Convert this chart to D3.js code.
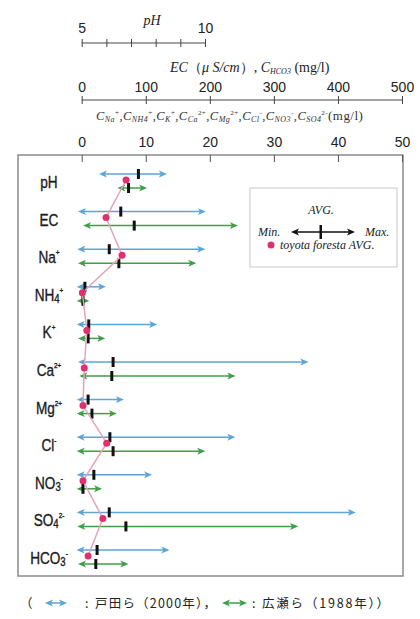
<!DOCTYPE html>
<html><head><meta charset="utf-8">
<script src="https://cdn.jsdelivr.net/npm/d3@7"></script>
<style>body{margin:0;background:#fff}</style>
</head><body>
<script>
// Rows of the chart and which axis each one is read against
const rowKeys = ["pH","EC","Na","NH4","K","Ca","Mg","Cl","NO3","SO4","HCO3"];
const rowUnits = ["ph","ec","ion","ion","ion","ion","ion","ion","ion","ion","ec"];
const rowLabels = [["pH","",""],["EC","",""],["Na","","+"],["NH","4","+"],["K","","+"],["Ca","","2+"],["Mg","","2+"],["Cl","","-"],["NO","3","-"],["SO","4","2-"],["HCO","3","-"]];

// 戸田ら (2000)
const todaMin = [5.9, 2, 0.1, 0, 0, 0.2, 0, 0, 0, 0, 0];
const todaAvg = [7.3, 61, 4.3, 0.5, 1.1, 4.9, 1.0, 4.4, 1.9, 4.3, 24];
const todaMax = [8.25, 186, 18.5, 3.0, 11.0, 34.6, 5.8, 23.2, 10.2, 42.0, 129];
// 広瀬ら (1988)
const hiroseMin = [6.65, 10, 0.2, 0, 0.2, 0.4, 0, 0, 0, 0.1, 2];
const hiroseAvg = [6.9, 82, 5.8, 0.2, 1.0, 4.7, 1.6, 4.9, 0.2, 6.9, 22];
const hiroseMax = [7.45, 236, 17.1, 0.4, 2.9, 23.2, 4.7, 18.5, 2.4, 33.0, 65];
// toyota foresta average
const toyotaAvg = [6.8, 38, 6.3, 0.1, 0.8, 0.4, 0.2, 3.9, 0.2, 3.3, 10];

const phTicks = [5,6,7,8,9,10];
const phLabels = [5,10];
const ecTicks = [0,100,200,300,400,500];
const ionTicks = [0,10,20,30,40,50];
const ionNames = [["Na","+"],["NH4","+"],["K","+"],["Ca","2+"],["Mg","2+"],["Cl","-"],["NO3","-"],["SO4","2-"]];

const W = 420, H = 619;
const svg = d3.select("body").append("svg").attr("width", W).attr("height", H)
  .style("font-family", "'Liberation Sans', Arial, sans-serif");

const xPH = d3.scaleLinear().domain([5,10]).range([81.7,205]);
const xEC = d3.scaleLinear().domain([0,500]).range([81.7,402]);
const xIon = d3.scaleLinear().domain([0,50]).range([81.7,402]);
const scaleOf = {ph: xPH, ec: xEC, ion: xIon};
const y = d3.scalePoint().domain(rowKeys).range([181,557]);

const BLUE = "#5ba6d6", GREEN = "#3f9f48", PINK_LINE = "#e7a3bb", DOT = "#e0306e";
const serif = "'Liberation Serif', serif";

// arrow heads
const defs = svg.append("defs");
function marker(id, color){
  defs.append("marker").attr("id", id)
    .attr("viewBox","0 -4 8 8").attr("refX",3).attr("refY",0)
    .attr("markerWidth",8).attr("markerHeight",8)
    .attr("markerUnits","userSpaceOnUse")
    .attr("orient","auto-start-reverse")
    .append("path").attr("d","M0,-3.5L8,0L0,3.5L2,0Z").attr("fill", color);
}
marker("ab", BLUE); marker("ag", GREEN); marker("ak", "#111");

// text built from runs at different sizes / baselines
function runs(sel, parts){
  let level = 0;
  parts.forEach(p => {
    const t = sel.append("tspan").attr("dy", (p.shift || 0) - level).text(p.text);
    level = p.shift || 0;
    if (p.size) t.attr("font-size", p.size);
    if (p.italic) t.attr("font-style","italic");
  });
}

// ---- pH axis
const gPH = svg.append("g").attr("transform","translate(0,43)");
gPH.call(d3.axisTop(xPH).tickValues(phTicks).tickSize(4).tickPadding(6)
  .tickFormat(d => phLabels.includes(d) ? d : ""));
gPH.selectAll(".tick line").attr("y1",4).attr("stroke","#444");
gPH.select(".domain").attr("stroke","#444").attr("d","M81.7,0H205");
gPH.selectAll(".tick text").attr("font-size",14).attr("fill","#222")
  .attr("font-family","'Liberation Sans', Arial, sans-serif");
svg.append("text").attr("x",152).attr("y",25).attr("text-anchor","middle")
  .attr("font-family",serif).attr("font-style","italic")
  .attr("font-size",14).attr("fill","#222").text("pH");

// ---- EC / HCO3 axis
const gEC = svg.append("g").attr("transform","translate(0,100)");
gEC.call(d3.axisTop(xEC).tickValues(ecTicks).tickSize(4).tickPadding(4));
gEC.selectAll(".tick line").attr("y1",4).attr("stroke","#444");
gEC.select(".domain").attr("stroke","#444").attr("d","M81.7,0H402");
gEC.selectAll(".tick text").attr("font-size",14).attr("fill","#222")
  .attr("font-family","'Liberation Sans', Arial, sans-serif");
const tEC = svg.append("text").attr("x",170).attr("y",72)
  .attr("font-family",serif).attr("font-size",14).attr("fill","#222");
runs(tEC, [
  {text:"EC", italic:true}, {text:"（"}, {text:"μ S/cm", italic:true}, {text:"）, "},
  {text:"C", italic:true}, {text:"HCO3", italic:true, size:8, shift:2}, {text:" (mg/l)"}
]);

// ---- ion axis title
const tIon = svg.append("text").attr("x",96).attr("y",120)
  .attr("font-family",serif).attr("font-size",12).attr("fill","#333")
  .attr("letter-spacing",0.45);
const ionParts = [];
ionNames.forEach((n,i) => {
  ionParts.push({text:(i ? "," : "") + "C", italic:true, size:12.5});
  ionParts.push({text:n[0], italic:true, size:8, shift:2});
  ionParts.push({text:n[1], size:7, shift:-5});
});
ionParts.push({text:"(mg/l)", size:13});
runs(tIon, ionParts);

// ---- plot frame and its axis
svg.append("rect").attr("x",18).attr("y",155).attr("width",385).attr("height",421)
  .attr("fill","none").attr("stroke","#8a8a8a").attr("stroke-width",1.5);
const gIon = svg.append("g").attr("transform","translate(0,155)");
gIon.call(d3.axisTop(xIon).tickValues(ionTicks).tickSize(-7).tickPadding(8));
gIon.select(".domain").remove();
gIon.selectAll(".tick line").attr("stroke","#555");
gIon.selectAll(".tick text").attr("font-size",14).attr("fill","#222")
  .attr("font-family","'Liberation Sans', Arial, sans-serif");

// ---- row labels
const lab = svg.append("g").selectAll("text").data(rowKeys).join("text")
  .attr("x",49).attr("y", d => y(d) + 7).attr("text-anchor","middle")
  .attr("font-family","'Liberation Sans Narrow', 'Arial Narrow', 'Liberation Sans', sans-serif")
  .attr("font-size",17).attr("fill","#1a1a1a").attr("stroke","#1a1a1a").attr("stroke-width",0.35)
  .attr("transform", "translate(49,0) scale(0.8,1) translate(-49,0)");
lab.each(function(d,i){
  const t = d3.select(this), l = rowLabels[i];
  const parts = [{text:l[0]}];
  if (l[1]) parts.push({text:l[1], size:12, shift:2});
  if (l[2]) parts.push({text:l[2], size:8, shift:-8});
  runs(t, parts);
});

// ---- range arrows with average ticks
function series(mins, avgs, maxs, off, color, mk){
  const g = svg.append("g");
  g.selectAll("line").data(rowKeys).join("line")
    .attr("x1",(d,i)=>scaleOf[rowUnits[i]](mins[i]))
    .attr("x2",(d,i)=>scaleOf[rowUnits[i]](maxs[i]))
    .attr("y1",d=>y(d)+off).attr("y2",d=>y(d)+off)
    .attr("stroke",color).attr("stroke-width",1.5)
    .attr("marker-start",`url(#${mk})`).attr("marker-end",`url(#${mk})`);
  g.selectAll("rect").data(rowKeys).join("rect")
    .attr("x",(d,i)=>scaleOf[rowUnits[i]](avgs[i]) - 1.5)
    .attr("y",d=>y(d)+off-5).attr("width",3).attr("height",10).attr("fill","#111");
}
series(todaMin, todaAvg, todaMax, -7, BLUE, "ab");
series(hiroseMin, hiroseAvg, hiroseMax, 7, GREEN, "ag");

// ---- toyota foresta averages
const pts = rowKeys.map((d,i)=>[scaleOf[rowUnits[i]](toyotaAvg[i]), y(d)-1]);
svg.append("path").attr("d", d3.line()(pts)).attr("fill","none")
  .attr("stroke",PINK_LINE).attr("stroke-width",1.5);
svg.append("g").selectAll("circle").data(pts).join("circle")
  .attr("cx",d=>d[0]).attr("cy",d=>d[1]).attr("r",3.5).attr("fill",DOT);

// ---- legend box
const lg = svg.append("g");
lg.append("rect").attr("x",250).attr("y",188).attr("width",147).attr("height",79)
  .attr("fill","#fff").attr("stroke","#c8c8c8").attr("stroke-width",1);
lg.append("text").attr("x",321).attr("y",214).attr("text-anchor","middle")
  .attr("font-family",serif).attr("font-style","italic").attr("font-size",12).attr("fill","#222").text("AVG.");
lg.append("text").attr("x",258).attr("y",236)
  .attr("font-family",serif).attr("font-style","italic").attr("font-size",12).attr("fill","#222").text("Min.");
lg.append("text").attr("x",365).attr("y",236)
  .attr("font-family",serif).attr("font-style","italic").attr("font-size",12).attr("fill","#222").text("Max.");
lg.append("line").attr("x1",296).attr("x2",350).attr("y1",232).attr("y2",232)
  .attr("stroke","#111").attr("stroke-width",1.5)
  .attr("marker-start","url(#ak)").attr("marker-end","url(#ak)");
lg.append("rect").attr("x",319.5).attr("y",225).attr("width",2.5).attr("height",14).attr("fill","#111");
lg.append("circle").attr("cx",271).attr("cy",245).attr("r",3.5).attr("fill",DOT);
lg.append("text").attr("x",280).attr("y",249)
  .attr("font-family",serif).attr("font-style","italic").attr("font-size",12).attr("fill","#222").text("toyota foresta AVG.");

// ---- source legend below the frame
const jp = "'Noto Sans CJK JP', sans-serif";
const bl = svg.append("g").attr("font-family",jp).attr("font-size",12.5).attr("fill","#222");
bl.append("text").attr("x",20).attr("y",608).text("（");
bl.append("line").attr("x1",50).attr("x2",62).attr("y1",603).attr("y2",603)
  .attr("stroke",BLUE).attr("stroke-width",1.5).attr("marker-start","url(#ab)").attr("marker-end","url(#ab)");
bl.append("text").attr("x",85).attr("y",608).text(":");
bl.append("text").attr("x",95).attr("y",608).attr("letter-spacing",1.2).text("戸田ら（2000年），");
bl.append("line").attr("x1",227).attr("x2",242).attr("y1",603).attr("y2",603)
  .attr("stroke",GREEN).attr("stroke-width",1.5).attr("marker-start","url(#ag)").attr("marker-end","url(#ag)");
bl.append("text").attr("x",252).attr("y",608).text(":");
bl.append("text").attr("x",262).attr("y",608).attr("letter-spacing",1.8).text("広瀬ら（1988年））");
</script>
</body></html>
